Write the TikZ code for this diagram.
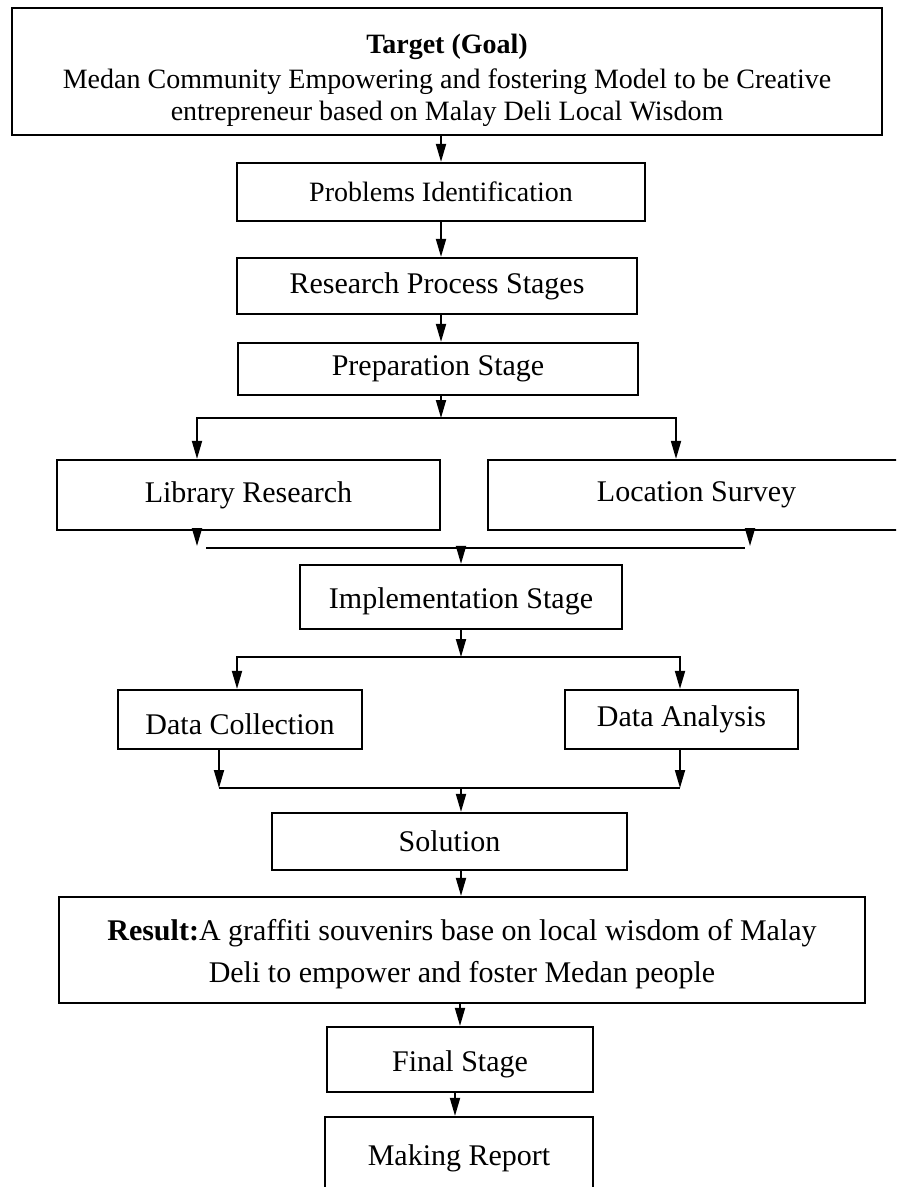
\documentclass[tikz,border=0pt]{standalone}
\usepackage{fontspec}
\setmainfont{Liberation Serif}
\usetikzlibrary{arrows.meta,positioning}

\begin{document}
\begin{tikzpicture}[
    x=0.5pt, y=-0.5pt,
    box/.style={draw, line width=1.1pt, align=center, inner sep=2pt, font=\fontsize{15}{18}\selectfont},
    smallbox/.style={box, font=\fontsize{14}{16}\selectfont},
    low/.style={text height=15pt},
    arr/.style={line width=0.9pt, -{Triangle[length=9pt,width=5pt]}},
    link/.style={line width=0.9pt}
]
\useasboundingbox (0,0) rectangle (896,1187);
\clip (0,0) rectangle (896,1187);

% goal
\node[smallbox, minimum width=435pt, minimum height=63.5pt] (goal) at (447,71.5)
    {\rule{0pt}{19pt}\textbf{Target (Goal)}\\[1.5pt]Medan Community Empowering and fostering Model to be Creative\\entrepreneur based on Malay Deli Local Wisdom};

% stages
\node[smallbox, minimum width=204pt, minimum height=29pt] (prob) at (441,192) {Problems Identification};
\node[box, minimum width=200pt, minimum height=28pt] (research) at (437,286) {Research Process Stages};
\node[box, minimum width=200pt, minimum height=26pt] (prep) at (438,369) {Preparation Stage};

% preparation branches
\node[box, minimum width=191.5pt, minimum height=35pt] (lib) at (248.5,495) {Library Research};
\node[box, minimum width=208.5pt, minimum height=35pt] (loc) at (696.5,495) {Location Survey};

\node[box, low, minimum width=161pt, minimum height=32pt] (impl) at (461,597) {Implementation Stage};

% implementation branches
\node[box, low, minimum width=122pt, minimum height=29.5pt] (dcol) at (240,719.5) {Data Collection};
\node[box, minimum width=116.5pt, minimum height=29.5pt] (dana) at (681.5,719.5) {Data Analysis};

% end
\node[box, minimum width=177.5pt, minimum height=28.5pt] (sol) at (449.5,841.5) {Solution};
\node[box, minimum width=403pt, minimum height=53pt] (result) at (462,950)
    {\rule{0pt}{14.5pt}\textbf{Result:}A graffiti souvenirs base on local wisdom of Malay\\[3pt]Deli to empower and foster Medan people};
\node[box, low, minimum width=133pt, minimum height=32.5pt] (final) at (460,1059.5) {Final Stage};
\node[box, minimum width=134pt, minimum height=41pt] (report) at (459,1158) {Making Report};

% split and join points
\coordinate (s1) at (441,418);
\coordinate (s1l) at (197,418);
\coordinate (s1r) at (676,418);
\coordinate (a1) at (197,546);
\coordinate (a2) at (750,546);
\coordinate (j1) at (461,548);
\coordinate (j1l) at (206,548);
\coordinate (j1r) at (745,548);
\coordinate (s2) at (461,657);
\coordinate (s2l) at (237,657);
\coordinate (s2r) at (680,657);
\coordinate (j2) at (461,788);
\coordinate (j2l) at (219,788);
\coordinate (j2r) at (680,788);

\draw[arr] (goal.south -| prob.north) -- (prob.north);
\draw[arr] (prob.south) -- (prob.south |- research.north);
\draw[arr] (prob.south |- research.south) -- (prob.south |- prep.north);

\draw[arr] (prep.south -| s1) -- (s1);
\draw[arr] (s1) -- (s1l) -- (s1l |- lib.north);
\draw[arr] (s1) -- (s1r) -- (s1r |- loc.north);

\draw[arr] (a1 |- lib.south) -- (a1);
\draw[arr] (a2 |- loc.south) -- (a2);
\draw[link] (j1l) -- (j1r);
\draw[arr] (j1) -- (impl.north);

\draw[arr] (impl.south) -- (s2);
\draw[arr] (s2) -- (s2l) -- (s2l |- dcol.north);
\draw[arr] (s2) -- (s2r) -- (s2r |- dana.north);

\draw[arr] (j2l |- dcol.south) -- (j2l);
\draw[arr] (j2r |- dana.south) -- (j2r);
\draw[link] (j2l) -- (j2r);
\draw[arr] (j2) -- (j2 |- sol.north);

\draw[arr] (sol.south -| j2) -- (result.north -| j2);
\draw[arr] (result.south -| final.north) -- (final.north);
\draw[arr] (final.south -| 455,0) -- (report.north -| 455,0);
\end{tikzpicture}
\end{document}
